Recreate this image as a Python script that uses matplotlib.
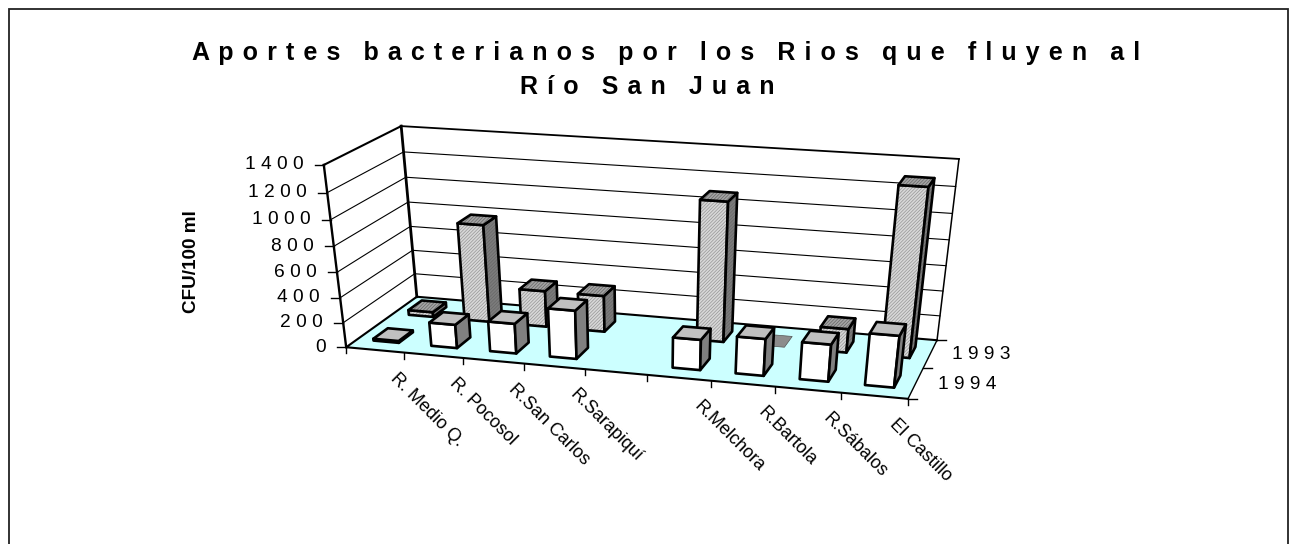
import numpy as np
import matplotlib
matplotlib.use("Agg")
import matplotlib.pyplot as plt
from matplotlib.patches import Polygon, Rectangle

plt.rcParams['font.family'] = ['Liberation Sans', 'DejaVu Sans']
plt.rcParams['hatch.linewidth'] = 0.5

# Datos
categories = ["R. Medio Q.", "R. Pocosol", "R.San Carlos", "R.Sarapiquí", "",
              "R.Melchora", "R.Bartola", "R.Sábalos", "El Castillo"]
values_1993 = [40, 790, 295, 295, 0, 1100, 0, 190, 1300]
values_1994 = [15, 190, 240, 385, 0, 240, 290, 290, 400]
series_labels = ["1 9 9 4", "1 9 9 3"]
y_ticks = [0, 200, 400, 600, 800, 1000, 1200, 1400]
title_lines = ["Aportes bacterianos por los Rios que fluyen al", "Río San Juan"]

y_max = 1400
n_cat = len(categories)

# Esquinas de la caja 3D en pixeles, para ajustar la proyeccion
box_3d = np.array([(0, 0, 0), (0, 1, 0), (0, 1, 1), (0, 0, 1), (1, 1, 1), (1, 1, 0), (1, 0, 0)], float)
box_px = np.array([(346, 347), (417, 297), (401, 126), (324, 165), (959, 159), (937, 340), (908, 399)], float)

A = []
for (a, b, c), (u, v) in zip(box_3d, box_px):
    A.append([a, b, c, 1, 0, 0, 0, 0, -u * a, -u * b, -u * c, -u])
    A.append([0, 0, 0, 0, a, b, c, 1, -v * a, -v * b, -v * c, -v])
P = np.linalg.svd(np.array(A))[2][-1].reshape(3, 4)


def proj(x, d, h):
    # x en categorias, d en filas (0 delante, 2 atras), h en CFU
    p = P @ np.array([x / n_cat, d / 2, h / y_max, 1.0])
    return p[0] / p[2], p[1] / p[2]


def spaced(s):
    # el titulo original lleva las letras separadas
    return "   \u200a".join(" \u200a".join(word) for word in s.split(" "))


fig = plt.figure(figsize=(12.89, 5.44), dpi=100)
ax = fig.add_axes([0, 0, 1, 1])
ax.set_xlim(0, 1289)
ax.set_ylim(544, 0)
ax.axis("off")

ax.add_patch(Rectangle((8.5, 8.5), 1279, 600, fc="white", ec="#222222", lw=1.3))

# Suelo
ax.add_patch(Polygon([proj(0, 0, 0), proj(n_cat, 0, 0), proj(n_cat, 2, 0), proj(0, 2, 0)],
                     fc="#ccffff", ec="none", zorder=1))

# Rejilla
for v in y_ticks[1:-1]:
    pts = [proj(0, 0, v), proj(0, 2, v), proj(n_cat, 2, v)]
    ax.plot(*zip(*pts), color="black", lw=0.8, zorder=2)

# Paredes y bordes
ax.plot(*zip(proj(0, 0, 0), proj(0, 0, y_max)), color="black", lw=1.7, zorder=2)
ax.plot(*zip(proj(0, 0, y_max), proj(0, 2, y_max)), color="black", lw=1.5, zorder=2)
ax.plot(*zip(proj(0, 2, y_max), proj(n_cat, 2, y_max)), color="black", lw=1.3, zorder=2)
ax.plot(*zip(proj(0, 2, y_max), proj(0, 2, 0)), color="black", lw=2.0, zorder=2)
ax.plot(*zip(proj(n_cat, 2, y_max), proj(n_cat, 2, 0)), color="black", lw=1.1, zorder=2)
ax.plot(*zip(proj(n_cat, 0, 0), proj(0, 0, 0), proj(0, 2, 0), proj(n_cat, 2, 0)),
        color="black", lw=1.5, zorder=2)
ax.plot(*zip(proj(n_cat, 2, 0), proj(n_cat, 0, 0)), color="black", lw=1.0, zorder=2)


def draw_bar(i, row, h, front, top, side, hatched):
    x0, x1 = i + 0.28, i + 0.72
    d0, d1 = row + 0.3, row + 0.7
    faces = [
        ([proj(x0, d0, 0), proj(x1, d0, 0), proj(x1, d0, h), proj(x0, d0, h)], front),
        ([proj(x1, d0, 0), proj(x1, d1, 0), proj(x1, d1, h), proj(x1, d0, h)], side),
        ([proj(x0, d0, h), proj(x1, d0, h), proj(x1, d1, h), proj(x0, d1, h)], top),
    ]
    if h == 0:
        # barra de valor cero: solo la tapa, sin borde grueso
        ax.add_patch(Polygon(faces[2][0], fc="#8c8c8c", ec="#555555", lw=0.5, zorder=3))
        return
    for pts, color in faces:
        if hatched:
            ax.add_patch(Polygon(pts, fc=color, ec="#959595" if color == front else "#666666",
                                 hatch="//////////", lw=0, zorder=3))
        else:
            ax.add_patch(Polygon(pts, fc=color, ec="none", zorder=3))
        ax.add_patch(Polygon(pts, fill=False, ec="black", lw=1.9, joinstyle="round", zorder=3))


for i, h in enumerate(values_1993):
    if categories[i]:
        draw_bar(i, 1, h, "#d8d8d8", "#a4a4a4", "#7c7c7c", True)
for i, h in enumerate(values_1994):
    if categories[i]:
        draw_bar(i, 0, h, "white", "#c0c0c0", "#808080", False)

# Ejes y etiquetas
for v in y_ticks:
    x, y = proj(0, 0, v)
    ax.plot([x - 9, x], [y, y], color="black", lw=1.0, zorder=2)
    ax.text(x - 20, y, " ".join(str(v)), ha="right", va="center", fontsize=13.8)

for i in range(n_cat + 1):
    x, y = proj(i, 0, 0)
    ax.plot([x, x], [y, y + 6], color="black", lw=1.0, zorder=2)

for i, name in enumerate(categories):
    x, y = proj(i + 0.5, 0, 0)
    ax.text(x + 18, y + 26, name, rotation=-45, rotation_mode="anchor",
            ha="left", va="center", fontsize=13)

for d in [0, 1, 2]:
    x, y = proj(n_cat, d, 0)
    ax.plot([x, x + 9], [y, y], color="black", lw=1.0, zorder=2)
for d, label in zip([0.5, 1.5], series_labels):
    x, y = proj(n_cat, d, 0)
    ax.text(x + 22, y + 1, label, ha="left", va="center", fontsize=13.8)

ax.text(192, 262, "CFU/100 ml", rotation=90, ha="center", va="center",
        fontsize=13.6, fontweight="bold")
ax.text(666, 53, spaced(title_lines[0]), ha="center", va="center", fontsize=18, fontweight="bold")
ax.text(647, 87, spaced(title_lines[1]), ha="center", va="center", fontsize=18, fontweight="bold")

fig.savefig("out.png", dpi=100)
